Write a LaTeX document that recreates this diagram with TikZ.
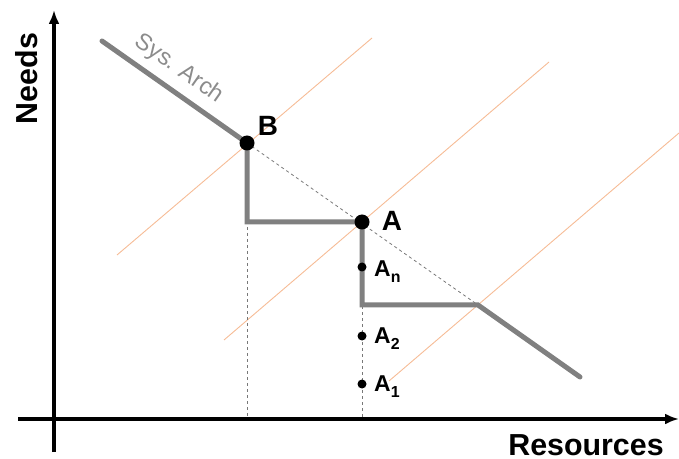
\documentclass[tikz,border=0pt]{standalone}
\usepackage{fontspec}
\setmainfont{Liberation Sans}
\usetikzlibrary{arrows.meta}
\definecolor{sysgray}{RGB}{128,128,128}
\definecolor{txtgray}{RGB}{140,140,140}
\definecolor{dashgray}{RGB}{120,120,120}
\definecolor{peach}{RGB}{246,188,150}
\tikzset{
  axis/.style={line width=4bp,-{Latex[length=14bp,width=11bp]}},
  sysline/.style={line width=5bp,sysgray,line cap=round,line join=miter},
  guide/.style={line width=0.8bp,dashgray,dash pattern=on 3bp off 3bp},
  budget/.style={line width=0.9bp,peach},
  bigdot/.style={circle,fill=black,inner sep=0pt,minimum size=15bp},
  smalldot/.style={circle,fill=black,inner sep=0pt,minimum size=9bp},
  biglabel/.style={font=\bfseries\fontsize{30.5}{36}\selectfont,inner sep=0pt},
  ptlabel/.style={font=\bfseries\fontsize{28}{32}\selectfont,inner sep=0pt},
  sublabel/.style={font=\bfseries\fontsize{23}{27}\selectfont,inner sep=0pt,anchor=base west},
}
\newcommand{\subn}[1]{\raisebox{-6bp}{\fontsize{16}{16}\selectfont #1}}
\begin{document}
\begin{tikzpicture}[x=1bp,y=-1bp]
\useasboundingbox (0,0) rectangle (679,459);
% key coordinates
\coordinate (S) at (102,41);
\coordinate (pB) at (247,143);
\coordinate (pA) at (362,222);
\coordinate (C) at (478,305);
\coordinate (E) at (580,377);
\coordinate (pAn) at (362,267);
\coordinate (pA2) at (362,336);
\coordinate (pA1) at (362,384);
% axes
\coordinate (ybot) at (54,452);
\coordinate (ytop) at (54,10);
\coordinate (xl) at (18,419);
\coordinate (xr) at (679,419);
% budget lines
\coordinate (o1s) at (117,255); \coordinate (o1e) at (372,38);
\coordinate (o2s) at (224,340); \coordinate (o2e) at (549,62);
\coordinate (o3s) at (389,381); \coordinate (o3e) at (679,133);
\draw[budget] (o1s) -- (o1e);
\draw[budget] (o2s) -- (o2e);
\draw[budget] (o3s) -- (o3e);
% guides
\draw[guide] (pB) -- (C);
\draw[guide] (pB) -- (pB |- xl);
\draw[guide] (pA) -- (pA |- xl);
% axes
\draw[axis] (ybot) -- (ytop);
\draw[axis] (xl) -- (xr);
% system architecture path
\draw[sysline] (S) -- (pB) -- (pB |- pA) -- (pA) -- (pA |- C) -- (C) -- (E);
% dots
\node[bigdot] (B) at (pB) {};
\node[bigdot] (A) at (pA) {};
\node[smalldot] (An) at (pAn) {};
\node[smalldot] (A2) at (pA2) {};
\node[smalldot] (A1) at (pA1) {};
% labels
\node[biglabel,rotate=90,anchor=base] (needs) at (37,78.5) {Needs};
\node[biglabel,anchor=base] (res) at (586,455) {Resources};
\node[ptlabel,anchor=base] (Blab) at (268,136) {B};
\node[ptlabel,anchor=base] (Alab) at (392,231) {A};
\node[sublabel] (Anlab) at (374,277) {A\subn{n}};
\node[sublabel] (A2lab) at (374,343) {A\subn{2}};
\node[sublabel] (A1lab) at (374,391) {A\subn{1}};
\node[font=\fontsize{23.5}{27}\selectfont,txtgray,rotate=-35.1,inner sep=0pt] (sys) at (179,69) {Sys. Arch};
\end{tikzpicture}
\end{document}
